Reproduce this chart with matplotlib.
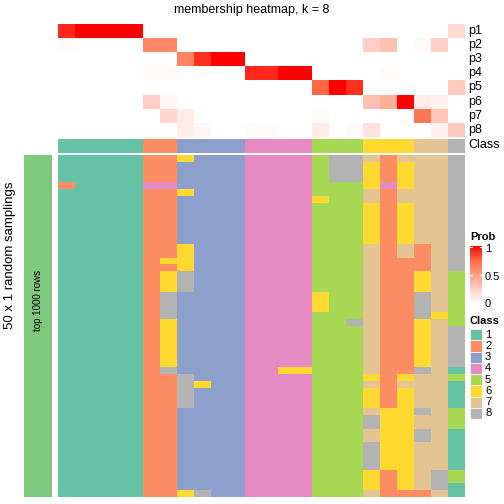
import numpy as np
import matplotlib.pyplot as plt
from matplotlib.colors import ListedColormap, LinearSegmentedColormap
from matplotlib.patches import Rectangle

plt.rcParams['font.family'] = ['Liberation Sans', 'DejaVu Sans']

# membership probabilities, rows p1..p8, 24 samples
prob_labels = ['p1', 'p2', 'p3', 'p4', 'p5', 'p6', 'p7', 'p8']
p1 = [0.9, 1, 1, 1, 1, 0, 0, 0, 0, 0, 0, 0, 0, 0, 0, 0, 0, 0, 0, 0, 0, 0, 0, 0.2]
p2 = [0.02, 0, 0, 0, 0, 0.6, 0.6, 0, 0, 0, 0, 0, 0, 0, 0, 0, 0, 0, 0.25, 0.33, 0, 0.03, 0.25, 0]
p3 = [0, 0, 0, 0, 0, 0, 0, 0.62, 0.88, 1, 1, 0, 0, 0, 0, 0, 0, 0, 0, 0, 0, 0, 0, 0]
p4 = [0, 0, 0, 0, 0, 0.02, 0.02, 0, 0, 0, 0, 0.9, 0.9, 1, 1, 0, 0, 0, 0, 0.02, 0, 0, 0, 0]
p5 = [0, 0, 0, 0, 0, 0, 0, 0, 0, 0, 0, 0, 0, 0, 0, 0.75, 1, 0.88, 0, 0, 0, 0, 0, 0.28]
p6 = [0, 0, 0, 0, 0, 0.25, 0.04, 0, 0, 0, 0, 0, 0, 0, 0, 0, 0, 0, 0.33, 0.42, 1, 0.1, 0.08, 0]
p7 = [0, 0, 0, 0, 0, 0, 0.22, 0.1, 0, 0, 0, 0, 0, 0, 0, 0.02, 0, 0, 0, 0, 0, 0.68, 0.3, 0]
p8 = [0, 0, 0, 0, 0, 0, 0, 0.1, 0.04, 0, 0, 0.02, 0.02, 0, 0, 0.1, 0, 0.03, 0.15, 0, 0, 0, 0.08, 0.28]

# consensus class of each sample
sample_class = [1, 1, 1, 1, 1, 2, 2, 3, 3, 3, 3, 4, 4, 4, 4, 5, 5, 5, 6, 6, 6, 7, 7, 8]

# class of each sample in the 50 random samplings (one string per sampling)
samplings = [
    "11111 22 6333 4444 588 7 2 7 7 7 8",
    "11111 22 3333 4444 588 6 2 6 7 7 8",
    "11111 22 3333 4444 588 6 2 6 7 7 8",
    "11111 22 3333 4444 588 6 2 6 7 7 8",
    "21111 44 3333 4444 555 6 4 6 7 7 8",
    "11111 22 6333 4444 555 7 2 7 7 7 8",
    "11111 22 3333 4444 655 7 2 7 7 7 8",
    "11111 22 3333 4444 555 6 2 6 7 7 8",
    "11111 22 3333 4444 555 6 2 6 7 7 8",
    "11111 22 3333 4444 555 6 2 6 7 7 8",
    "11111 22 3333 4444 555 6 2 6 7 7 8",
    "11111 22 3333 4444 555 6 2 6 7 7 8",
    "11111 22 3333 4444 555 6 2 6 7 7 8",
    "11111 22 6333 4444 555 7 2 7 2 7 8",
    "11111 22 6333 4444 555 7 2 7 2 7 8",
    "11111 26 6333 4444 555 7 2 2 2 7 8",
    "11111 22 6333 4444 555 7 2 2 2 7 8",
    "11111 26 8333 4444 555 7 2 2 6 7 5",
    "11111 26 8333 4444 555 7 2 2 6 7 5",
    "11111 26 8333 4444 555 7 2 2 6 7 5",
    "11111 28 3333 4444 655 7 2 2 8 7 5",
    "11111 28 3333 4444 655 7 2 2 8 7 5",
    "11111 28 3333 4444 655 7 2 2 8 7 5",
    "11111 28 3333 4444 555 7 2 2 8 6 5",
    "11111 26 3333 4444 558 7 2 2 6 7 5",
    "11111 26 3333 4444 555 7 2 2 6 7 8",
    "11111 26 3333 4444 555 7 2 2 6 7 8",
    "11111 26 3333 4444 555 7 2 2 6 7 8",
    "11111 26 3333 4444 555 7 2 2 6 7 8",
    "11111 26 3333 4444 555 7 2 2 6 7 8",
    "11111 26 3333 4444 555 7 2 2 6 7 8",
    "11111 28 3333 4466 555 7 2 2 8 7 1",
    "11111 22 8333 4444 555 6 2 6 7 7 5",
    "11111 22 8633 4444 555 7 2 7 7 7 1",
    "11111 22 8333 4444 555 6 2 6 7 7 1",
    "11111 22 8333 4444 555 6 2 6 7 7 1",
    "11111 22 8333 4444 555 6 2 6 7 7 1",
    "11111 22 3333 4444 555 7 6 6 8 7 5",
    "11111 22 3333 4444 555 8 6 6 7 7 5",
    "11111 22 3333 4444 555 8 6 6 7 7 5",
    "11111 22 3333 4444 555 7 6 6 8 7 1",
    "11111 22 3333 4444 555 7 6 6 8 7 1",
    "11111 22 3333 4444 555 8 6 6 7 7 1",
    "11111 22 3333 4444 555 8 6 6 7 7 1",
    "11111 22 3333 4444 555 8 6 6 7 7 1",
    "11111 22 3333 4444 555 8 6 6 7 7 1",
    "11111 22 3333 4444 555 6 2 6 7 8 5",
    "11111 22 3333 4444 555 6 2 6 7 8 5",
    "11111 22 3333 4444 555 6 2 6 7 8 1",
    "11111 22 6833 4444 555 7 2 2 2 7 1",
]

class_names = ['1', '2', '3', '4', '5', '6', '7', '8']
class_colors = ['#66C2A5', '#FC8D62', '#8DA0CB', '#E78AC3',
                '#A6D854', '#FFD92F', '#E5C494', '#B3B3B3']

prob = np.array([p1, p2, p3, p4, p5, p6, p7, p8])
mat = np.array([[int(c) for c in s.replace(' ', '')] for s in samplings])

class_cmap = ListedColormap(class_colors)
prob_cmap = LinearSegmentedColormap.from_list(
    'prob', [(0, '#FFFFFF'), (0.25, '#FFD0C8'), (0.5, '#FF9E81'),
             (0.75, '#FF6846'), (1, '#FF0000')])

W = H = 504


def box(x0, y0, x1, y1):
    # pixel box (from top left) -> figure fraction
    return [x0 / W, 1 - y1 / H, (x1 - x0) / W, (y1 - y0) / H]


fig = plt.figure(figsize=(5.04, 5.04), dpi=100)

# membership probabilities
ax_p = fig.add_axes(box(58, 24, 465, 137))
ax_p.imshow(prob, cmap=prob_cmap, vmin=0, vmax=1, aspect='auto',
            interpolation='nearest')
ax_p.axis('off')

# class annotation
ax_c = fig.add_axes(box(58, 138.5, 465, 153))
ax_c.imshow(np.array(sample_class)[None, :], cmap=class_cmap, vmin=0.5,
            vmax=8.5, aspect='auto', interpolation='nearest')
ax_c.axis('off')

row_y = 24 + 14.1 * (np.arange(8) + 0.5)
for lab, y in zip(prob_labels, row_y):
    fig.text(468 / W, 1 - y / H, lab, fontsize=9, va='center', ha='left')
fig.text(468 / W, 1 - 145.5 / H, 'Class', fontsize=9, va='center', ha='left')

# sampling heatmap
ax_m = fig.add_axes(box(58, 155, 465, 497))
ax_m.imshow(mat, cmap=class_cmap, vmin=0.5, vmax=8.5, aspect='auto',
            interpolation='nearest')
ax_m.axis('off')

# left bar
ax_l = fig.add_axes(box(24, 155, 52, 497))
ax_l.set_facecolor('#7FC97F')
ax_l.set_xticks([])
ax_l.set_yticks([])
for s in ax_l.spines.values():
    s.set_visible(False)
fig.text(38 / W, 1 - 300 / H, 'top 1000 rows', fontsize=7, rotation=90,
         ha='center', va='center')
fig.text(10 / W, 1 - 255 / H, '50 x 1 random samplings', fontsize=9.5,
         rotation=90, ha='center', va='center')

fig.text(0.5, 1 - 10 / H, 'membership heatmap, k = 8', fontsize=9,
         ha='center', va='center')

# Prob legend
fig.text(470 / W, 1 - 237 / H, 'Prob', fontsize=8, fontweight='bold',
         ha='left', va='center')
ax_cb = fig.add_axes(box(470, 246, 482, 304))
grad = np.linspace(1, 0, 100)[:, None]
ax_cb.imshow(grad, cmap=prob_cmap, vmin=0, vmax=1, aspect='auto',
             extent=[0, 1, 0, 1])
for t in [0.5, 1.0]:
    yy = min(t, 0.985)
    ax_cb.plot([0, 0.15], [yy, yy], color='white', lw=0.8)
    ax_cb.plot([0.85, 1], [yy, yy], color='white', lw=0.8)
ax_cb.set_xlim(0, 1)
ax_cb.set_ylim(0, 1)
ax_cb.axis('off')
for t, lab in [(1, '1'), (0.5, '0.5'), (0, '0')]:
    y = 304 - t * 55
    fig.text(485 / W, 1 - y / H, lab, fontsize=8, ha='left', va='center')

# Class legend
fig.text(470 / W, 1 - 321 / H, 'Class', fontsize=8, fontweight='bold',
         ha='left', va='center')
ax_cl = fig.add_axes(box(470, 329, 482, 419))
ax_cl.set_xlim(0, 1)
ax_cl.set_ylim(8, 0)
ax_cl.axis('off')
for i, (name, col) in enumerate(zip(class_names, class_colors)):
    ax_cl.add_patch(Rectangle((0, i), 1, 1, facecolor=col,
                              edgecolor='white', lw=0.5))
    fig.text(485 / W, 1 - (329 + 11.25 * (i + 0.5)) / H, name, fontsize=8,
             ha='left', va='center')

plt.savefig('out.png', dpi=100)
